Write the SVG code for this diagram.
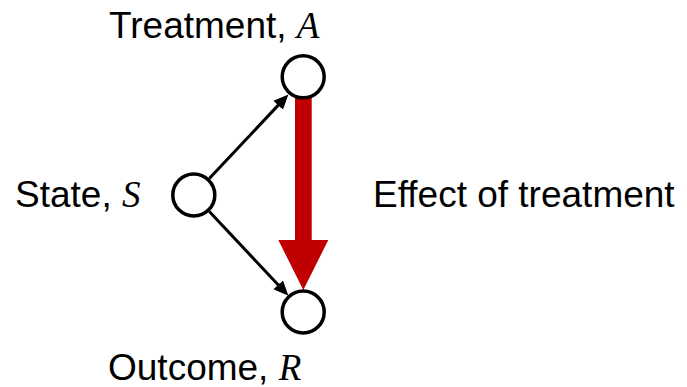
<svg xmlns="http://www.w3.org/2000/svg" width="687" height="387" viewBox="0 0 687 387">
<style>
.node{fill:#fff;stroke:#000;stroke-width:3.5}
.edge{stroke:#000;stroke-width:3;fill:none}
.lbl{font-family:"Liberation Sans",Arial,Helvetica,sans-serif;font-size:37px;fill:#000}
.m{font-family:"Liberation Serif","Times New Roman",serif;font-style:italic}
</style>
<defs>
<marker id="ah" markerUnits="userSpaceOnUse" markerWidth="16" markerHeight="14" refX="4" refY="6.5" orient="auto" viewBox="0 0 16 13">
<path d="M0,0 L15,6.5 L0,13 z" fill="#000"/>
</marker>
</defs>
<rect width="687" height="387" fill="#fff"/>
<g id="connectors">
<line class="edge" x1="209.3" y1="178.5" x2="280.9" y2="102.4" marker-end="url(#ah)"/>
<line class="edge" x1="209.3" y1="211.5" x2="280.9" y2="287.7" marker-end="url(#ah)"/>
<path id="effect-arrow" d="M295,98 L311.7,98 L311.7,240 L328.3,240 L303.3,290 L278.3,240 L295,240 z" fill="#c00000"/>
</g>
<g id="node-A">
<circle class="node" cx="303.2" cy="76.8" r="21"/>
<text class="lbl" x="109" y="38">Treatment, <tspan class="m">A</tspan></text>
</g>
<g id="node-S">
<circle class="node" cx="193.8" cy="195" r="21"/>
<text class="lbl" x="15" y="207">State, <tspan class="m">S</tspan></text>
</g>
<g id="node-R">
<circle class="node" cx="303.2" cy="312" r="21"/>
<text class="lbl" x="108" y="380">Outcome, <tspan class="m">R</tspan></text>
</g>
<g id="label-effect">
<text class="lbl" x="373" y="207">Effect of treatment</text>
</g>
</svg>
